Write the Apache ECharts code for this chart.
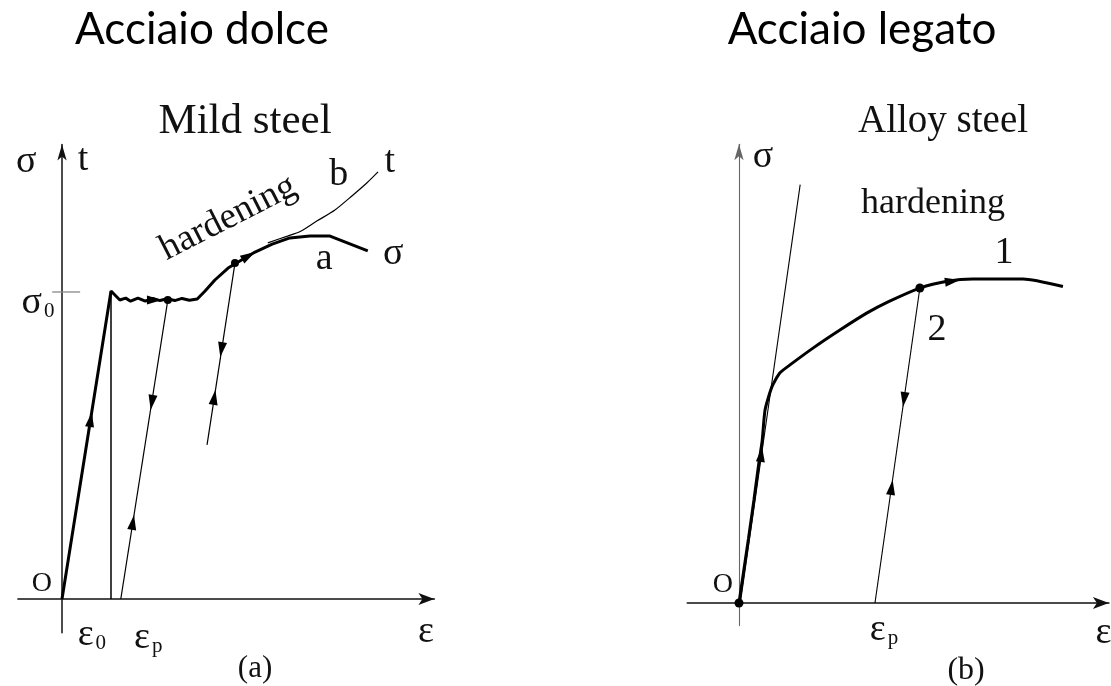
<!DOCTYPE html>
<html>
<head>
<meta charset="utf-8">
<title>Acciaio dolce / Acciaio legato</title>
<script src="https://cdn.jsdelivr.net/npm/echarts@6/dist/echarts.min.js"></script>
<style>
  html, body { margin: 0; padding: 0; background: #ffffff; }
  #chart { width: 1111px; height: 686px; }
</style>
</head>
<body>
<div id="chart"></div>
<script>
// ---------- Mild steel (strain in units of ε0, stress in tenths of σ0) ----------
const mildMain = [
  [0, 0], [1.0, 10.03], [1.18, 9.74],
  [1.3, 9.8], [1.4, 9.7], [1.55, 9.8], [1.7, 9.7], [1.85, 9.79], [2.0, 9.72],
  [2.15, 9.78], [2.3, 9.72], [2.45, 9.79], [2.6, 9.73], [2.76, 9.77],
  [2.92, 10.03], [3.12, 10.39], [3.39, 10.78], [3.63, 11.01], [3.94, 11.3],
  [4.29, 11.56], [4.65, 11.76], [5.06, 11.82], [5.47, 11.82], [6.24, 11.34]
];
const mildTrue = [[4.2, 11.6], [4.6, 11.82], [4.86, 11.97], [5.2, 12.31], [5.57, 12.67], [5.94, 13.16], [6.22, 13.55], [6.45, 13.91]];
const mildYieldLine = [[1.0, 0], [1.0, 10.03]];
const mildUnload1 = [[2.16, 9.74], [1.2, 0]];
const mildUnload2 = [[3.53, 10.94], [2.96, 5.02]];
const mildSigma0Tick = [[-0.2, 10.0], [0.37, 10.0]];
const mildDots = [[2.16, 9.74], [3.53, 10.94]];
// arrow heads: [tipX, tipY, tailX, tailY]
const mildArrows = [
  [0.61, 6.09, 0.3, 3.0],
  [2.04, 9.74, 1.7, 9.74],
  [1.81, 6.16, 2.16, 9.74],
  [1.47, 2.74, 1.2, 0],
  [3.94, 11.3, 3.63, 11.01],
  [3.23, 7.88, 3.53, 10.94],
  [3.13, 6.81, 2.96, 5.02]
];
const mildLabels = [
  { text: 'σ', at: [-0.73, 14.23] },
  { text: 't', at: [0.43, 14.3] },
  { text: 'hardening', at: [3.39, 12.41], rotate: 27, size: 37 },
  { text: 'b', at: [5.65, 13.81] },
  { text: 't', at: [6.69, 14.23] },
  { text: 'a', at: [5.35, 11.07] },
  { text: 'σ', at: [6.76, 11.24] },
  { text: 'σ', sub: '0', at: [-0.49, 9.64] },
  { text: 'O', at: [-0.41, 0.49], size: 28 },
  { text: 'ε', sub: '0', at: [0.61, -1.17] },
  { text: 'ε', sub: 'p', at: [1.76, -1.27] },
  { text: 'ε', at: [7.43, -1.07] },
  { text: '(a)', at: [3.94, -2.28], size: 31 }
];

// ---------- Alloy steel ----------
const alloyMain = [
  [0, 0], [0.35, 2.0], [0.55, 3.19], [0.73, 4.33], [0.85, 5.0], [0.96, 5.98],
  [1.21, 6.69], [1.5, 7.12], [1.875, 7.37], [2.72, 7.89], [3.71, 8.45],
  [4.71, 8.98], [5.5, 9.33], [6.65, 9.75], [7.65, 9.96], [8.6, 10.03],
  [10.44, 10.03], [11.91, 9.8]
];
const alloyTangent = [[0.05, 0], [2.25, 12.95]];
const alloyUnload = [[6.65, 9.75], [5.0, 0]];
const alloyDots = [[0, 0], [6.65, 9.75]];
const alloyArrows = [
  [0.85, 4.83, 0.6, 3.0],
  [8.12, 10.0, 7.2, 9.88],
  [6.03, 6.07, 6.65, 9.75],
  [5.65, 3.81, 5.0, 0]
];
const alloyLabels = [
  { text: 'σ', at: [0.88, 13.8] },
  { text: 'hardening', at: [7.13, 12.38], size: 36 },
  { text: '1', at: [9.74, 10.84] },
  { text: '2', at: [7.28, 8.45] },
  { text: 'O', at: [-0.59, 0.56], size: 28 },
  { text: 'ε', sub: 'p', at: [5.33, -0.85] },
  { text: 'ε', at: [13.4, -0.93] },
  { text: '(b)', at: [8.35, -2.08], size: 32 }
];

const SERIF = '"Liberation Serif", "DejaVu Serif", serif';
const INK = '#000000';

function axisPair(gridIndex, xr, yr, xWidth, yWidth, yColor) {
  const base = {
    type: 'value', gridIndex,
    splitLine: { show: false }, axisTick: { show: false }, axisLabel: { show: false }
  };
  return {
    x: Object.assign({}, base, {
      min: xr[0], max: xr[1],
      axisLine: { onZero: true, symbol: ['none', 'arrow'], symbolSize: [9, 16], symbolOffset: [0, 0],
        lineStyle: { color: '#111111', width: xWidth } }
    }),
    y: Object.assign({}, base, {
      min: yr[0], max: yr[1],
      axisLine: { onZero: true, symbol: ['none', 'arrow'], symbolSize: [7, 16], symbolOffset: [0, 0],
        lineStyle: { color: yColor, width: yWidth } }
    })
  };
}

const ax0 = axisPair(0, [-0.9, 7.6], [-1.1, 14.8], 1.5, 1.5, '#111111');
const ax1 = axisPair(1, [-1.9, 13.6], [-0.7, 14.2], 1.6, 1.1, '#666666');

function curve(idx, data, width, smooth) {
  return {
    type: 'line', xAxisIndex: idx, yAxisIndex: idx, data,
    showSymbol: false, symbol: 'none', smooth: smooth || false, silent: true,
    lineStyle: { color: INK, width }, clip: false, z: 3
  };
}

function arrowSeries(idx, data) {
  return {
    type: 'custom', xAxisIndex: idx, yAxisIndex: idx, data, clip: false, z: 5,
    encode: { x: [0, 2], y: [1, 3] },
    renderItem: function (params, api) {
      const tip = api.coord([api.value(0), api.value(1)]);
      const tail = api.coord([api.value(2), api.value(3)]);
      let dx = tip[0] - tail[0], dy = tip[1] - tail[1];
      const len = Math.hypot(dx, dy) || 1;
      dx /= len; dy /= len;
      const L = 15, W = 4.5;
      const bx = tip[0] - dx * L, by = tip[1] - dy * L;
      return {
        type: 'polygon',
        shape: { points: [tip, [bx - dy * W, by + dx * W], [bx + dy * W, by - dx * W]] },
        style: { fill: INK }
      };
    }
  };
}

function dotSeries(idx, data, size) {
  return {
    type: 'scatter', xAxisIndex: idx, yAxisIndex: idx, data, symbolSize: size,
    itemStyle: { color: INK, opacity: 1 }, clip: false, z: 6, silent: true
  };
}

function labelSeries(idx, labels, defaultSize) {
  return {
    type: 'scatter', xAxisIndex: idx, yAxisIndex: idx, symbolSize: 0, clip: false, z: 7, silent: true,
    data: labels.map(function (l) {
      const size = l.size || defaultSize;
      return {
        value: l.at,
        label: {
          show: true, position: 'inside', rotate: l.rotate || 0,
          formatter: l.sub ? '{m|' + l.text + '}{s|' + l.sub + '}' : l.text,
          fontFamily: SERIF, fontSize: size, color: '#111111', opacity: 1,
          rich: {
            m: { fontFamily: SERIF, fontSize: size, color: '#111111' },
            s: { fontFamily: SERIF, fontSize: Math.round(size * 0.55), color: '#111111', padding: [Math.round(size * 0.45), 0, 0, 2] }
          }
        }
      };
    })
  };
}

const chart = echarts.init(document.getElementById('chart'), null, { renderer: 'canvas' });

chart.setOption({
  backgroundColor: '#ffffff',
  animation: false,
  grid: [
    { left: 17.9, top: 144.6, width: 416.5, height: 488.2, containLabel: false, outerBoundsMode: 'none' },
    { left: 687.3, top: 144.3, width: 421.6, height: 481.3, containLabel: false, outerBoundsMode: 'none' }
  ],
  xAxis: [ax0.x, ax1.x],
  yAxis: [ax0.y, ax1.y],
  graphic: [
    { type: 'text', x: 202, y: 30, style: { text: 'Acciaio dolce', font: '44px Lato, "Open Sans", sans-serif', fill: '#000', align: 'center', verticalAlign: 'middle' } },
    { type: 'text', x: 862, y: 30, style: { text: 'Acciaio legato', font: '44px Lato, "Open Sans", sans-serif', fill: '#000', align: 'center', verticalAlign: 'middle' } },
    { type: 'text', x: 245, y: 122, style: { text: 'Mild steel', font: '43px ' + SERIF, fill: '#111', align: 'center', verticalAlign: 'middle' } },
    { type: 'text', x: 943, y: 122, style: { text: 'Alloy steel', font: '39px ' + SERIF, fill: '#111', align: 'center', verticalAlign: 'middle' } }
  ],
  series: [
    // mild steel
    curve(0, mildMain, 3),
    curve(0, mildTrue, 1.2, 0.3),
    curve(0, mildYieldLine, 1.5),
    curve(0, mildUnload1, 1.2),
    curve(0, mildUnload2, 1.2),
    Object.assign(curve(0, mildSigma0Tick, 1.3), { lineStyle: { color: '#888888', width: 1.3 } }),
    dotSeries(0, mildDots, 8),
    arrowSeries(0, mildArrows),
    labelSeries(0, mildLabels, 38),
    // alloy steel
    curve(1, alloyMain, 3, 0.2),
    curve(1, alloyTangent, 1.1),
    curve(1, alloyUnload, 1.1),
    dotSeries(1, alloyDots, 9),
    arrowSeries(1, alloyArrows),
    labelSeries(1, alloyLabels, 38)
  ]
});
</script>
</body>
</html>
